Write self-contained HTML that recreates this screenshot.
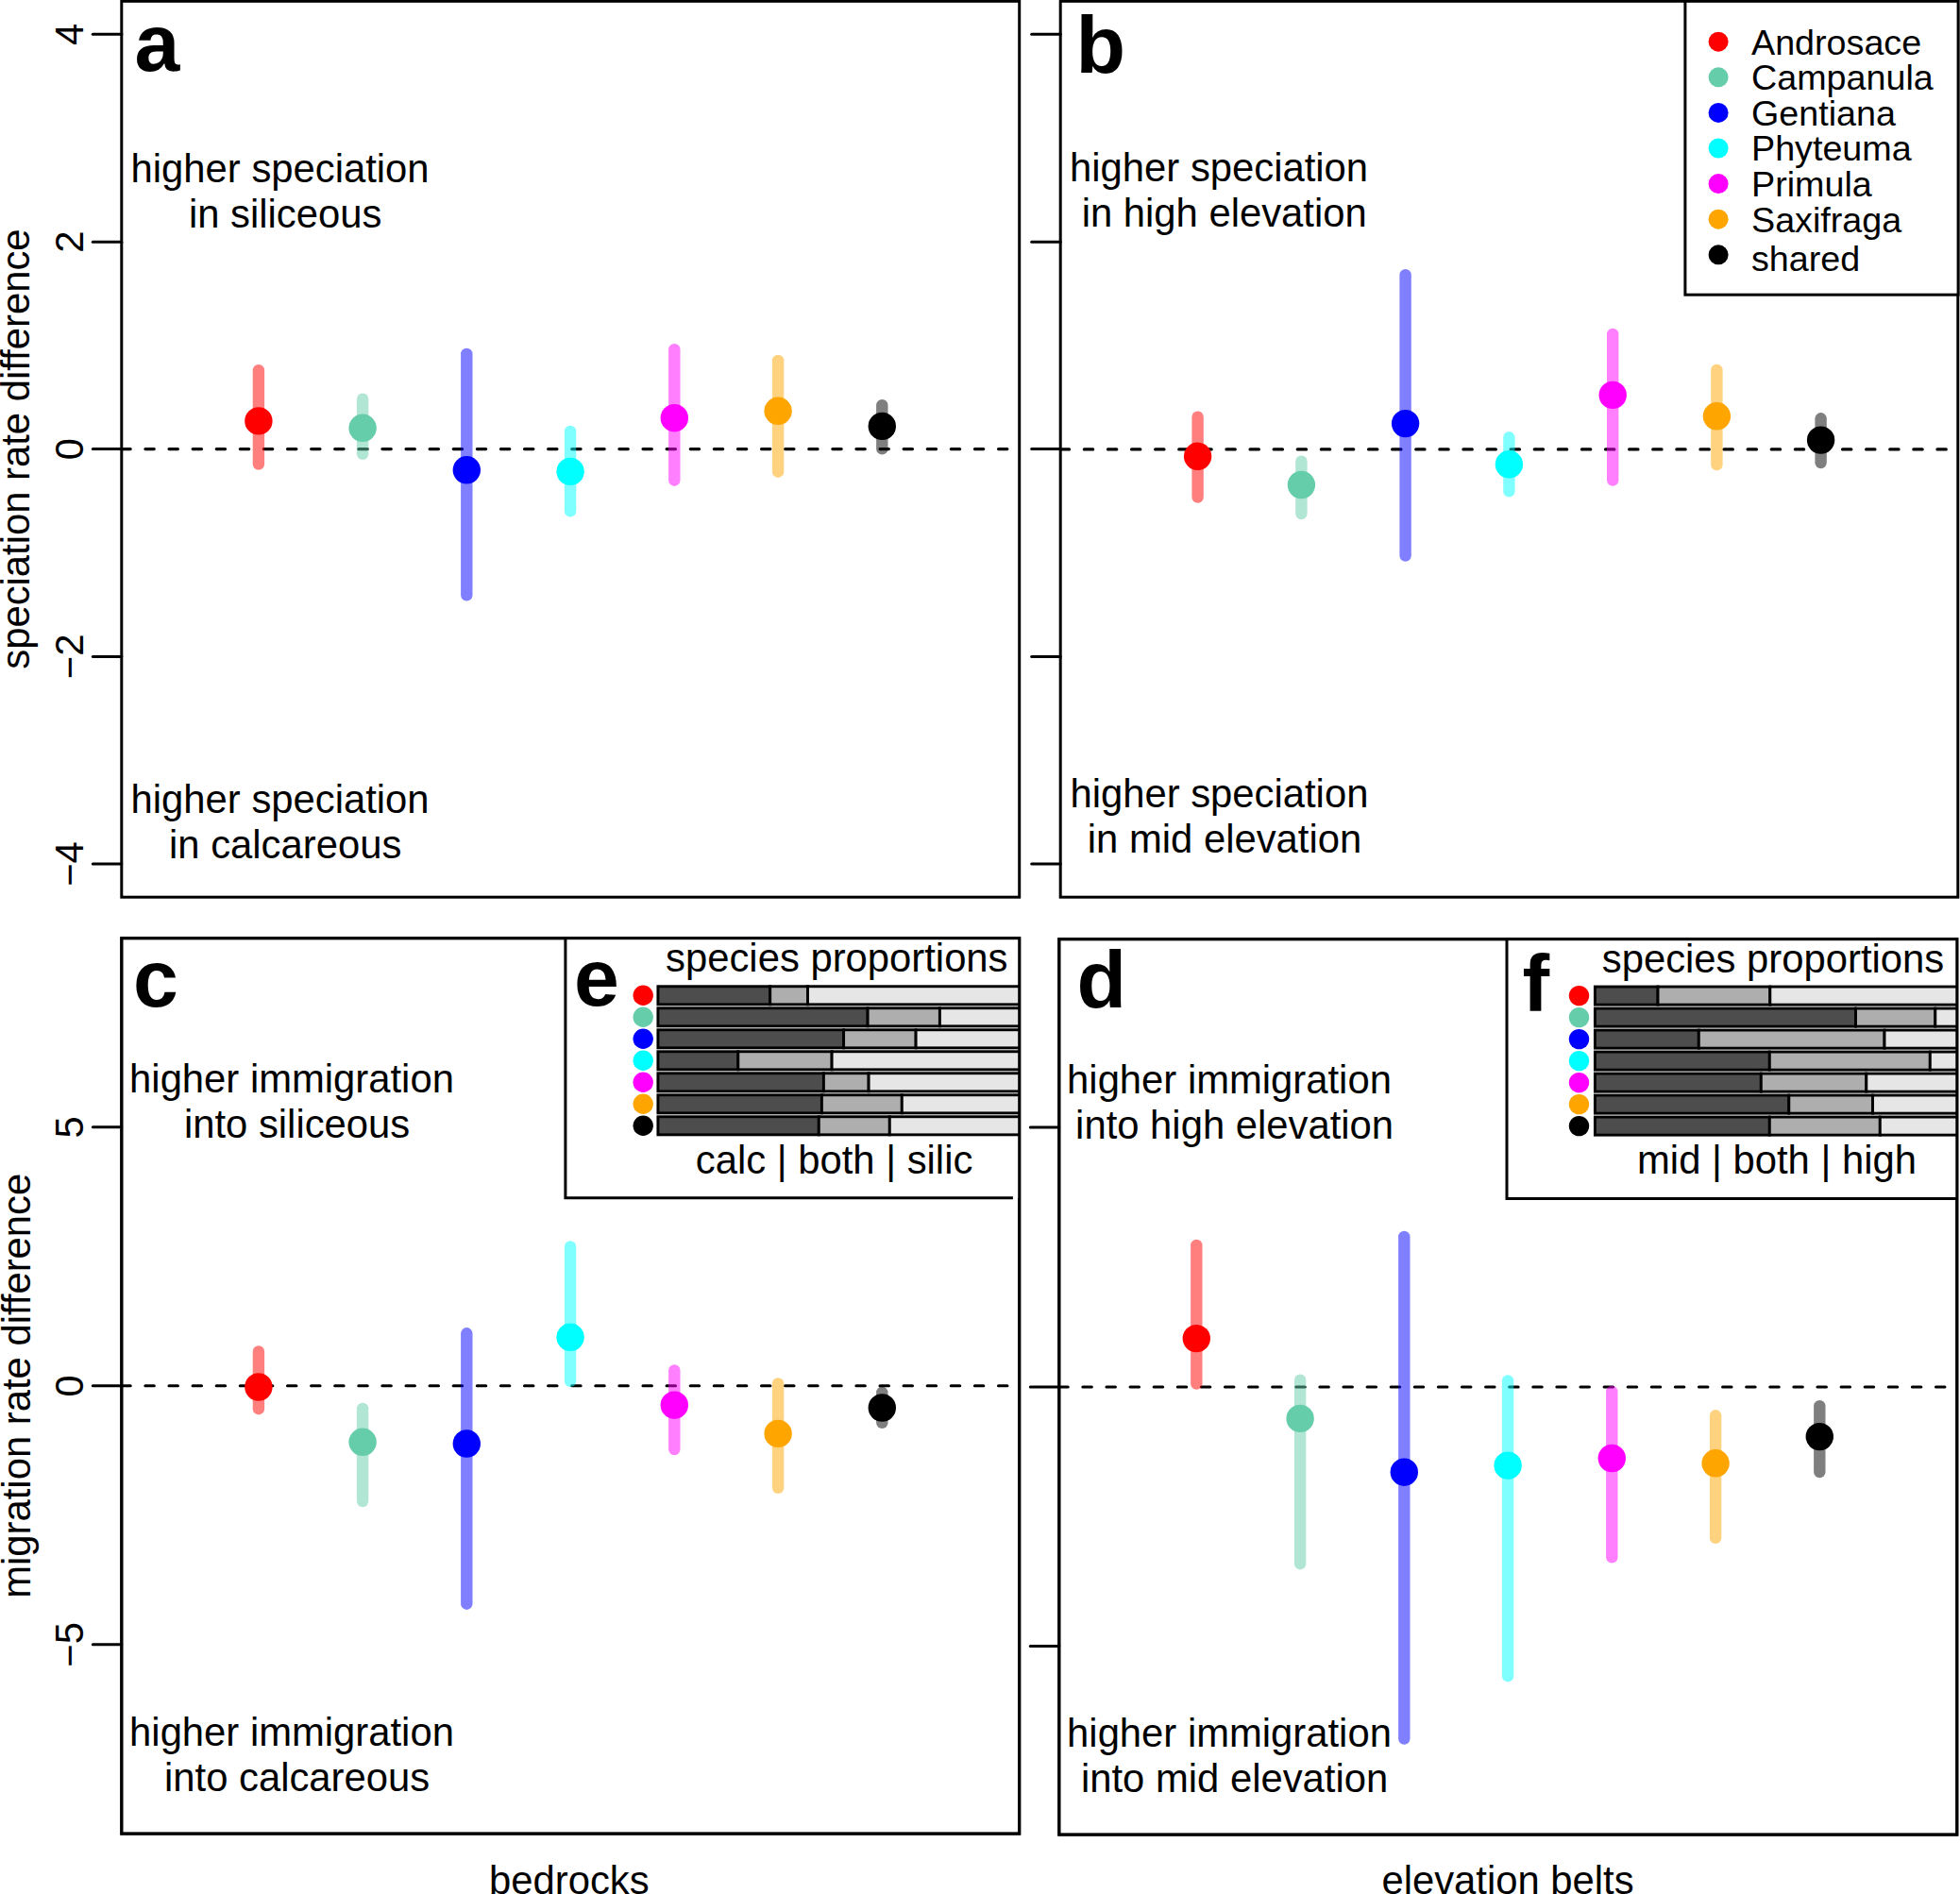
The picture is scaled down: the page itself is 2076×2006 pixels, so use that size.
<!DOCTYPE html>
<html><head><meta charset="utf-8"><title>figure</title>
<style>html,body{margin:0;padding:0;background:#fff}svg{display:block}</style></head>
<body>
<svg width="2076" height="2006" viewBox="0 0 2076 2006" font-family="'Liberation Sans', Arial, sans-serif" fill="#000">
<rect width="2076" height="2006" fill="#fff"/>
<g id="pa">
<line x1="128.8" y1="475.6" x2="1079.7" y2="475.6" stroke="#000" stroke-width="3.13" stroke-dasharray="9.4 15.7" stroke-linecap="round"/>
<line x1="273.9" y1="392.10" x2="273.9" y2="491.60" stroke="#ff0000" stroke-opacity="0.5" stroke-width="12.4" stroke-linecap="round"/>
<line x1="384.1" y1="422.70" x2="384.1" y2="480.90" stroke="#66cdaa" stroke-opacity="0.5" stroke-width="12.4" stroke-linecap="round"/>
<line x1="494.3" y1="375.00" x2="494.3" y2="630.30" stroke="#0000ff" stroke-opacity="0.5" stroke-width="12.4" stroke-linecap="round"/>
<line x1="604.1" y1="457.00" x2="604.1" y2="541.40" stroke="#00ffff" stroke-opacity="0.5" stroke-width="12.4" stroke-linecap="round"/>
<line x1="714.3" y1="370.10" x2="714.3" y2="508.70" stroke="#ff00ff" stroke-opacity="0.5" stroke-width="12.4" stroke-linecap="round"/>
<line x1="824.1" y1="381.90" x2="824.1" y2="499.70" stroke="#ffa500" stroke-opacity="0.5" stroke-width="12.4" stroke-linecap="round"/>
<line x1="934.3" y1="429.20" x2="934.3" y2="475.40" stroke="#000000" stroke-opacity="0.5" stroke-width="12.4" stroke-linecap="round"/>
<circle cx="273.9" cy="445.9" r="14.7" fill="#ff0000"/>
<circle cx="384.1" cy="453.3" r="14.7" fill="#66cdaa"/>
<circle cx="494.3" cy="497.8" r="14.7" fill="#0000ff"/>
<circle cx="604.1" cy="499.4" r="14.7" fill="#00ffff"/>
<circle cx="714.3" cy="442.7" r="14.7" fill="#ff00ff"/>
<circle cx="824.1" cy="435.3" r="14.7" fill="#ffa500"/>
<circle cx="934.3" cy="451.4" r="14.7" fill="#000000"/>
<rect x="128.8" y="1.3" width="950.90" height="948.90" fill="none" stroke="#000" stroke-width="3.0"/>
<line x1="98.30" y1="36.3" x2="128.8" y2="36.3" stroke="#000" stroke-width="3.0" stroke-linecap="round"/>
<text transform="translate(88.40,36.3) rotate(-90)" text-anchor="middle" font-size="41.8">4</text>
<line x1="98.30" y1="256.2" x2="128.8" y2="256.2" stroke="#000" stroke-width="3.0" stroke-linecap="round"/>
<text transform="translate(88.40,256.2) rotate(-90)" text-anchor="middle" font-size="41.8">2</text>
<line x1="98.30" y1="475.6" x2="128.8" y2="475.6" stroke="#000" stroke-width="3.0" stroke-linecap="round"/>
<text transform="translate(88.40,475.6) rotate(-90)" text-anchor="middle" font-size="41.8">0</text>
<line x1="98.30" y1="695.4" x2="128.8" y2="695.4" stroke="#000" stroke-width="3.0" stroke-linecap="round"/>
<text transform="translate(88.40,695.4) rotate(-90)" text-anchor="middle" font-size="41.8">−2</text>
<line x1="98.30" y1="915.0" x2="128.8" y2="915.0" stroke="#000" stroke-width="3.0" stroke-linecap="round"/>
<text transform="translate(88.40,915.0) rotate(-90)" text-anchor="middle" font-size="41.8">−4</text>
<text x="142.4" y="74.6" font-size="86" font-weight="bold">a</text>
<text x="296.6" y="192.7" text-anchor="middle" font-size="41.8">higher speciation</text>
<text x="302.20000000000005" y="240.7" text-anchor="middle" font-size="41.8">in siliceous</text>
<text x="296.6" y="861" text-anchor="middle" font-size="41.8">higher speciation</text>
<text x="302.20000000000005" y="909.0" text-anchor="middle" font-size="41.8">in calcareous</text>
<text transform="translate(31,475.6) rotate(-90)" text-anchor="middle" font-size="41.8">speciation rate difference</text>
</g>
<g id="pb">
<line x1="1123.2" y1="475.9" x2="2073.8" y2="475.9" stroke="#000" stroke-width="3.13" stroke-dasharray="9.4 15.7" stroke-linecap="round"/>
<line x1="1268.6" y1="441.70" x2="1268.6" y2="526.50" stroke="#ff0000" stroke-opacity="0.5" stroke-width="12.4" stroke-linecap="round"/>
<line x1="1378.4" y1="488.60" x2="1378.4" y2="544.00" stroke="#66cdaa" stroke-opacity="0.5" stroke-width="12.4" stroke-linecap="round"/>
<line x1="1488.6" y1="291.10" x2="1488.6" y2="588.50" stroke="#0000ff" stroke-opacity="0.5" stroke-width="12.4" stroke-linecap="round"/>
<line x1="1598.4" y1="463.30" x2="1598.4" y2="520.30" stroke="#00ffff" stroke-opacity="0.5" stroke-width="12.4" stroke-linecap="round"/>
<line x1="1708.2" y1="354.00" x2="1708.2" y2="508.50" stroke="#ff00ff" stroke-opacity="0.5" stroke-width="12.4" stroke-linecap="round"/>
<line x1="1818.4" y1="391.90" x2="1818.4" y2="492.20" stroke="#ffa500" stroke-opacity="0.5" stroke-width="12.4" stroke-linecap="round"/>
<line x1="1928.6" y1="443.30" x2="1928.6" y2="490.10" stroke="#000000" stroke-opacity="0.5" stroke-width="12.4" stroke-linecap="round"/>
<circle cx="1268.6" cy="483.3" r="14.7" fill="#ff0000"/>
<circle cx="1378.4" cy="513.5" r="14.7" fill="#66cdaa"/>
<circle cx="1488.6" cy="448.6" r="14.7" fill="#0000ff"/>
<circle cx="1598.4" cy="491.8" r="14.7" fill="#00ffff"/>
<circle cx="1708.2" cy="418.4" r="14.7" fill="#ff00ff"/>
<circle cx="1818.4" cy="440.8" r="14.7" fill="#ffa500"/>
<circle cx="1928.6" cy="466.1" r="14.7" fill="#000000"/>
<rect x="1123.2" y="1.3" width="950.60" height="948.90" fill="none" stroke="#000" stroke-width="3.0"/>
<line x1="1092.70" y1="36.3" x2="1123.2" y2="36.3" stroke="#000" stroke-width="3.0" stroke-linecap="round"/>
<line x1="1092.70" y1="256.2" x2="1123.2" y2="256.2" stroke="#000" stroke-width="3.0" stroke-linecap="round"/>
<line x1="1092.70" y1="475.6" x2="1123.2" y2="475.6" stroke="#000" stroke-width="3.0" stroke-linecap="round"/>
<line x1="1092.70" y1="695.4" x2="1123.2" y2="695.4" stroke="#000" stroke-width="3.0" stroke-linecap="round"/>
<line x1="1092.70" y1="915.0" x2="1123.2" y2="915.0" stroke="#000" stroke-width="3.0" stroke-linecap="round"/>
<text x="1139.5" y="76.5" font-size="86" font-weight="bold">b</text>
<text x="1291.1" y="192.4" text-anchor="middle" font-size="41.8">higher speciation</text>
<text x="1296.6999999999998" y="240.4" text-anchor="middle" font-size="41.8">in high elevation</text>
<text x="1291.4" y="855" text-anchor="middle" font-size="41.8">higher speciation</text>
<text x="1297.0" y="903.0" text-anchor="middle" font-size="41.8">in mid elevation</text>
<rect x="1784.9" y="1.3" width="289.20" height="310.90" fill="#fff" stroke="#000" stroke-width="3.0"/>
<circle cx="1820.1" cy="44.20" r="10.5" fill="#ff0000"/>
<text x="1855" y="57.50" font-size="37.7">Androsace</text>
<circle cx="1820.1" cy="81.80" r="10.5" fill="#66cdaa"/>
<text x="1855" y="95.10" font-size="37.7">Campanula</text>
<circle cx="1820.1" cy="119.40" r="10.5" fill="#0000ff"/>
<text x="1855" y="132.70" font-size="37.7">Gentiana</text>
<circle cx="1820.1" cy="157.00" r="10.5" fill="#00ffff"/>
<text x="1855" y="170.30" font-size="37.7">Phyteuma</text>
<circle cx="1820.1" cy="194.60" r="10.5" fill="#ff00ff"/>
<text x="1855" y="207.90" font-size="37.7">Primula</text>
<circle cx="1820.1" cy="232.20" r="10.5" fill="#ffa500"/>
<text x="1855" y="245.50" font-size="37.7">Saxifraga</text>
<circle cx="1820.1" cy="269.80" r="10.5" fill="#000000"/>
<text x="1855" y="286.80" font-size="37.7">shared</text>
</g>
<g id="pc">
<line x1="128.8" y1="1467.8" x2="1079.7" y2="1467.8" stroke="#000" stroke-width="3.13" stroke-dasharray="9.4 15.7" stroke-linecap="round"/>
<line x1="273.9" y1="1431.50" x2="273.9" y2="1492.20" stroke="#ff0000" stroke-opacity="0.5" stroke-width="12.4" stroke-linecap="round"/>
<line x1="384.1" y1="1491.90" x2="384.1" y2="1590.10" stroke="#66cdaa" stroke-opacity="0.5" stroke-width="12.4" stroke-linecap="round"/>
<line x1="494.3" y1="1412.30" x2="494.3" y2="1698.70" stroke="#0000ff" stroke-opacity="0.5" stroke-width="12.4" stroke-linecap="round"/>
<line x1="604.1" y1="1320.50" x2="604.1" y2="1462.80" stroke="#00ffff" stroke-opacity="0.5" stroke-width="12.4" stroke-linecap="round"/>
<line x1="714.3" y1="1451.50" x2="714.3" y2="1535.00" stroke="#ff00ff" stroke-opacity="0.5" stroke-width="12.4" stroke-linecap="round"/>
<line x1="824.1" y1="1465.40" x2="824.1" y2="1575.80" stroke="#ffa500" stroke-opacity="0.5" stroke-width="12.4" stroke-linecap="round"/>
<line x1="934.3" y1="1474.80" x2="934.3" y2="1506.90" stroke="#000000" stroke-opacity="0.5" stroke-width="12.4" stroke-linecap="round"/>
<circle cx="273.9" cy="1469" r="14.7" fill="#ff0000"/>
<circle cx="384.1" cy="1527.3" r="14.7" fill="#66cdaa"/>
<circle cx="494.3" cy="1529" r="14.7" fill="#0000ff"/>
<circle cx="604.1" cy="1416.3" r="14.7" fill="#00ffff"/>
<circle cx="714.3" cy="1488.2" r="14.7" fill="#ff00ff"/>
<circle cx="824.1" cy="1518.4" r="14.7" fill="#ffa500"/>
<circle cx="934.3" cy="1491" r="14.7" fill="#000000"/>
<rect x="128.8" y="993.7" width="950.90" height="948.40" fill="none" stroke="#000" stroke-width="3.0"/>
<line x1="98.30" y1="1193.8" x2="128.8" y2="1193.8" stroke="#000" stroke-width="3.0" stroke-linecap="round"/>
<text transform="translate(88.40,1193.8) rotate(-90)" text-anchor="middle" font-size="41.8">5</text>
<line x1="98.30" y1="1467.8" x2="128.8" y2="1467.8" stroke="#000" stroke-width="3.0" stroke-linecap="round"/>
<text transform="translate(88.40,1467.8) rotate(-90)" text-anchor="middle" font-size="41.8">0</text>
<line x1="98.30" y1="1741.8" x2="128.8" y2="1741.8" stroke="#000" stroke-width="3.0" stroke-linecap="round"/>
<text transform="translate(88.40,1741.8) rotate(-90)" text-anchor="middle" font-size="41.8">−5</text>
<text x="141" y="1065.7" font-size="86" font-weight="bold">c</text>
<text x="309" y="1157" text-anchor="middle" font-size="41.8">higher immigration</text>
<text x="314.6" y="1205.0" text-anchor="middle" font-size="41.8">into siliceous</text>
<text x="309" y="1849.1" text-anchor="middle" font-size="41.8">higher immigration</text>
<text x="314.6" y="1897.1" text-anchor="middle" font-size="41.8">into calcareous</text>
<text transform="translate(32,1467.8) rotate(-90)" text-anchor="middle" font-size="41.8">migration rate difference</text>
<text x="602.8" y="2005.5" text-anchor="middle" font-size="41.8">bedrocks</text>
</g>
<g id="pd">
<line x1="1121.8" y1="1469" x2="2072.8" y2="1469" stroke="#000" stroke-width="3.13" stroke-dasharray="9.4 15.7" stroke-linecap="round"/>
<line x1="1267.3" y1="1318.90" x2="1267.3" y2="1465.60" stroke="#ff0000" stroke-opacity="0.5" stroke-width="12.4" stroke-linecap="round"/>
<line x1="1377.1" y1="1461.70" x2="1377.1" y2="1656.20" stroke="#66cdaa" stroke-opacity="0.5" stroke-width="12.4" stroke-linecap="round"/>
<line x1="1487.3" y1="1309.90" x2="1487.3" y2="1841.60" stroke="#0000ff" stroke-opacity="0.5" stroke-width="12.4" stroke-linecap="round"/>
<line x1="1597.1" y1="1462.50" x2="1597.1" y2="1775.20" stroke="#00ffff" stroke-opacity="0.5" stroke-width="12.4" stroke-linecap="round"/>
<line x1="1707.3" y1="1474.00" x2="1707.3" y2="1649.30" stroke="#ff00ff" stroke-opacity="0.5" stroke-width="12.4" stroke-linecap="round"/>
<line x1="1817.1" y1="1499.30" x2="1817.1" y2="1628.90" stroke="#ffa500" stroke-opacity="0.5" stroke-width="12.4" stroke-linecap="round"/>
<line x1="1927.3" y1="1489.10" x2="1927.3" y2="1559.10" stroke="#000000" stroke-opacity="0.5" stroke-width="12.4" stroke-linecap="round"/>
<circle cx="1267.3" cy="1417.6" r="14.7" fill="#ff0000"/>
<circle cx="1377.1" cy="1502.4" r="14.7" fill="#66cdaa"/>
<circle cx="1487.3" cy="1559.2" r="14.7" fill="#0000ff"/>
<circle cx="1597.1" cy="1552.2" r="14.7" fill="#00ffff"/>
<circle cx="1707.3" cy="1544.5" r="14.7" fill="#ff00ff"/>
<circle cx="1817.1" cy="1549.8" r="14.7" fill="#ffa500"/>
<circle cx="1927.3" cy="1521.6" r="14.7" fill="#000000"/>
<rect x="1121.8" y="994.7" width="951.00" height="948.40" fill="none" stroke="#000" stroke-width="3.0"/>
<line x1="1091.30" y1="1194" x2="1121.8" y2="1194" stroke="#000" stroke-width="3.0" stroke-linecap="round"/>
<line x1="1091.30" y1="1469" x2="1121.8" y2="1469" stroke="#000" stroke-width="3.0" stroke-linecap="round"/>
<line x1="1091.30" y1="1743.5" x2="1121.8" y2="1743.5" stroke="#000" stroke-width="3.0" stroke-linecap="round"/>
<text x="1140.5" y="1066.5" font-size="86" font-weight="bold">d</text>
<text x="1302" y="1158" text-anchor="middle" font-size="41.8">higher immigration</text>
<text x="1307.6" y="1206.0" text-anchor="middle" font-size="41.8">into high elevation</text>
<text x="1302" y="1850.1" text-anchor="middle" font-size="41.8">higher immigration</text>
<text x="1307.6" y="1898.1" text-anchor="middle" font-size="41.8">into mid elevation</text>
<text x="1597" y="2005.5" text-anchor="middle" font-size="41.8">elevation belts</text>
</g>
<rect x="598.9" y="993.7" width="480.80" height="275.00" fill="#fff"/>
<clipPath id="ce"><rect x="598.9" y="993.7" width="480.80" height="275.00"/></clipPath>
<g clip-path="url(#ce)">
<rect x="696.9" y="1044.75" width="118.80" height="19.1" fill="#4d4d4d" stroke="#000" stroke-width="2.9"/>
<rect x="815.7" y="1044.75" width="39.80" height="19.1" fill="#aeaeae" stroke="#000" stroke-width="2.9"/>
<rect x="855.5" y="1044.75" width="264.20" height="19.1" fill="#e6e6e6" stroke="#000" stroke-width="2.9"/>
<rect x="696.9" y="1067.75" width="222.20" height="19.1" fill="#4d4d4d" stroke="#000" stroke-width="2.9"/>
<rect x="919.1" y="1067.75" width="76.30" height="19.1" fill="#aeaeae" stroke="#000" stroke-width="2.9"/>
<rect x="995.4" y="1067.75" width="124.30" height="19.1" fill="#e6e6e6" stroke="#000" stroke-width="2.9"/>
<rect x="696.9" y="1090.75" width="196.70" height="19.1" fill="#4d4d4d" stroke="#000" stroke-width="2.9"/>
<rect x="893.6" y="1090.75" width="76.50" height="19.1" fill="#aeaeae" stroke="#000" stroke-width="2.9"/>
<rect x="970.1" y="1090.75" width="149.60" height="19.1" fill="#e6e6e6" stroke="#000" stroke-width="2.9"/>
<rect x="696.9" y="1113.75" width="84.90" height="19.1" fill="#4d4d4d" stroke="#000" stroke-width="2.9"/>
<rect x="781.8" y="1113.75" width="99.30" height="19.1" fill="#aeaeae" stroke="#000" stroke-width="2.9"/>
<rect x="881.1" y="1113.75" width="238.60" height="19.1" fill="#e6e6e6" stroke="#000" stroke-width="2.9"/>
<rect x="696.9" y="1136.75" width="175.50" height="19.1" fill="#4d4d4d" stroke="#000" stroke-width="2.9"/>
<rect x="872.4" y="1136.75" width="47.70" height="19.1" fill="#aeaeae" stroke="#000" stroke-width="2.9"/>
<rect x="920.1" y="1136.75" width="199.60" height="19.1" fill="#e6e6e6" stroke="#000" stroke-width="2.9"/>
<rect x="696.9" y="1159.75" width="173.50" height="19.1" fill="#4d4d4d" stroke="#000" stroke-width="2.9"/>
<rect x="870.4" y="1159.75" width="84.90" height="19.1" fill="#aeaeae" stroke="#000" stroke-width="2.9"/>
<rect x="955.3" y="1159.75" width="164.40" height="19.1" fill="#e6e6e6" stroke="#000" stroke-width="2.9"/>
<rect x="696.9" y="1182.75" width="170.40" height="19.1" fill="#4d4d4d" stroke="#000" stroke-width="2.9"/>
<rect x="867.3" y="1182.75" width="75.00" height="19.1" fill="#aeaeae" stroke="#000" stroke-width="2.9"/>
<rect x="942.3" y="1182.75" width="177.40" height="19.1" fill="#e6e6e6" stroke="#000" stroke-width="2.9"/>
</g>
<circle cx="681.2" cy="1054.30" r="10.7" fill="#ff0000"/>
<circle cx="681.2" cy="1077.30" r="10.7" fill="#66cdaa"/>
<circle cx="681.2" cy="1100.30" r="10.7" fill="#0000ff"/>
<circle cx="681.2" cy="1123.30" r="10.7" fill="#00ffff"/>
<circle cx="681.2" cy="1146.30" r="10.7" fill="#ff00ff"/>
<circle cx="681.2" cy="1169.30" r="10.7" fill="#ffa500"/>
<circle cx="681.2" cy="1192.30" r="10.7" fill="#000000"/>
<path d="M598.9 993.7 V1268.7 H1072.9" fill="none" stroke="#000" stroke-width="3.0"/>
<text x="608" y="1065" font-size="86" font-weight="bold">e</text>
<text x="886.3" y="1028.9" text-anchor="middle" font-size="41.8">species proportions</text>
<text x="883.6" y="1242.7" text-anchor="middle" font-size="41.8">calc | both | silic</text>
<rect x="1596" y="994.7" width="476.80" height="274.80" fill="#fff"/>
<clipPath id="cf"><rect x="1596" y="994.7" width="476.80" height="274.80"/></clipPath>
<g clip-path="url(#cf)">
<rect x="1689.4" y="1045.05" width="66.60" height="19.1" fill="#4d4d4d" stroke="#000" stroke-width="2.9"/>
<rect x="1756" y="1045.05" width="118.80" height="19.1" fill="#aeaeae" stroke="#000" stroke-width="2.9"/>
<rect x="1874.8" y="1045.05" width="238.00" height="19.1" fill="#e6e6e6" stroke="#000" stroke-width="2.9"/>
<rect x="1689.4" y="1068.05" width="276.10" height="19.1" fill="#4d4d4d" stroke="#000" stroke-width="2.9"/>
<rect x="1965.5" y="1068.05" width="84.30" height="19.1" fill="#aeaeae" stroke="#000" stroke-width="2.9"/>
<rect x="2049.8" y="1068.05" width="63.00" height="19.1" fill="#e6e6e6" stroke="#000" stroke-width="2.9"/>
<rect x="1689.4" y="1091.05" width="109.90" height="19.1" fill="#4d4d4d" stroke="#000" stroke-width="2.9"/>
<rect x="1799.3" y="1091.05" width="196.70" height="19.1" fill="#aeaeae" stroke="#000" stroke-width="2.9"/>
<rect x="1996" y="1091.05" width="116.80" height="19.1" fill="#e6e6e6" stroke="#000" stroke-width="2.9"/>
<rect x="1689.4" y="1114.05" width="184.90" height="19.1" fill="#4d4d4d" stroke="#000" stroke-width="2.9"/>
<rect x="1874.3" y="1114.05" width="170.00" height="19.1" fill="#aeaeae" stroke="#000" stroke-width="2.9"/>
<rect x="2044.3" y="1114.05" width="68.50" height="19.1" fill="#e6e6e6" stroke="#000" stroke-width="2.9"/>
<rect x="1689.4" y="1137.05" width="175.90" height="19.1" fill="#4d4d4d" stroke="#000" stroke-width="2.9"/>
<rect x="1865.3" y="1137.05" width="111.50" height="19.1" fill="#aeaeae" stroke="#000" stroke-width="2.9"/>
<rect x="1976.8" y="1137.05" width="136.00" height="19.1" fill="#e6e6e6" stroke="#000" stroke-width="2.9"/>
<rect x="1689.4" y="1160.05" width="205.40" height="19.1" fill="#4d4d4d" stroke="#000" stroke-width="2.9"/>
<rect x="1894.8" y="1160.05" width="88.70" height="19.1" fill="#aeaeae" stroke="#000" stroke-width="2.9"/>
<rect x="1983.5" y="1160.05" width="129.30" height="19.1" fill="#e6e6e6" stroke="#000" stroke-width="2.9"/>
<rect x="1689.4" y="1183.05" width="184.90" height="19.1" fill="#4d4d4d" stroke="#000" stroke-width="2.9"/>
<rect x="1874.3" y="1183.05" width="117.00" height="19.1" fill="#aeaeae" stroke="#000" stroke-width="2.9"/>
<rect x="1991.3" y="1183.05" width="121.50" height="19.1" fill="#e6e6e6" stroke="#000" stroke-width="2.9"/>
</g>
<circle cx="1672.5" cy="1054.60" r="10.7" fill="#ff0000"/>
<circle cx="1672.5" cy="1077.60" r="10.7" fill="#66cdaa"/>
<circle cx="1672.5" cy="1100.60" r="10.7" fill="#0000ff"/>
<circle cx="1672.5" cy="1123.60" r="10.7" fill="#00ffff"/>
<circle cx="1672.5" cy="1146.60" r="10.7" fill="#ff00ff"/>
<circle cx="1672.5" cy="1169.60" r="10.7" fill="#ffa500"/>
<circle cx="1672.5" cy="1192.60" r="10.7" fill="#000000"/>
<path d="M1596 994.7 V1269.5 H2072.8" fill="none" stroke="#000" stroke-width="3.0"/>
<text x="1612.5" y="1070.5" font-size="86" font-weight="bold">f</text>
<text x="1878" y="1029.5" text-anchor="middle" font-size="41.8">species proportions</text>
<text x="1882" y="1242.5" text-anchor="middle" font-size="41.8">mid | both | high</text>
<rect x="128.8" y="993.7" width="950.90" height="948.40" fill="none" stroke="#000" stroke-width="3.0"/>
<rect x="1121.8" y="994.7" width="951.00" height="948.40" fill="none" stroke="#000" stroke-width="3.0"/>
</svg>
</body></html>
